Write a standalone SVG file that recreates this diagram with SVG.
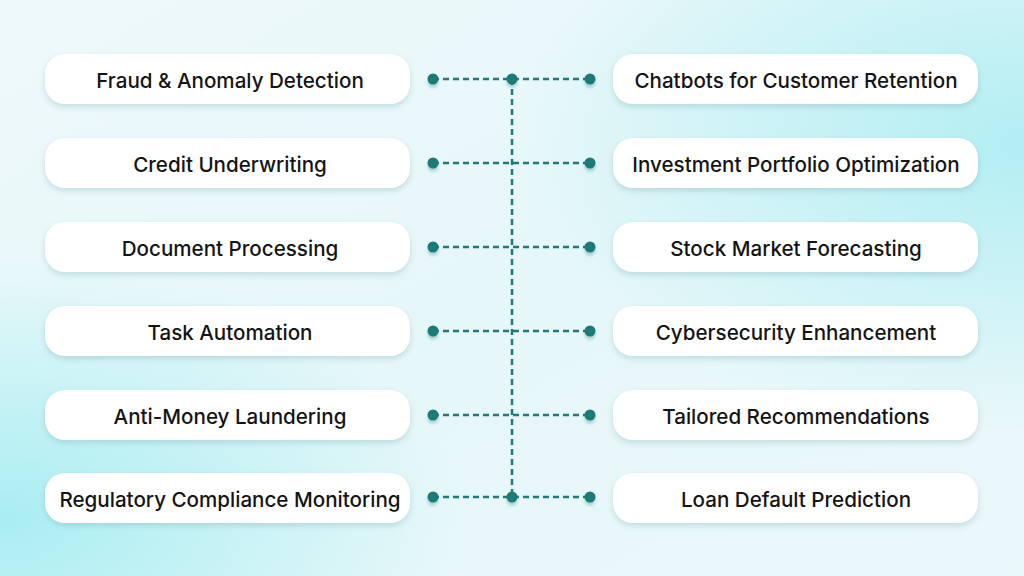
<svg xmlns="http://www.w3.org/2000/svg" width="1024" height="576" viewBox="0 0 1024 576">
<defs>
<linearGradient id="bg" x1="0" y1="0" x2="1" y2="1">
<stop offset="0" stop-color="#eef9fb"/>
<stop offset="0.5" stop-color="#e6f7f9"/>
<stop offset="1" stop-color="#eaf8fa"/>
</linearGradient>
<radialGradient id="g1" cx="1" cy="0.25" r="0.5"><stop offset="0" stop-color="#b2eef3"/><stop offset="1" stop-color="#b2eef3" stop-opacity="0"/></radialGradient>
<radialGradient id="g2" cx="0" cy="0.9" r="0.45"><stop offset="0" stop-color="#a9eef2"/><stop offset="1" stop-color="#a9eef2" stop-opacity="0"/></radialGradient>
<filter id="sh" x="-10%" y="-30%" width="120%" height="170%"><feDropShadow dx="0" dy="3" stdDeviation="3" flood-color="#7aa9b0" flood-opacity="0.35"/></filter>
<filter id="ds" x="-100%" y="-100%" width="300%" height="300%"><feDropShadow dx="0" dy="3" stdDeviation="1.5" flood-color="#1f7a78" flood-opacity="0.3"/></filter>
</defs>
<style>
.n rect{fill:#fff;filter:url(#sh)}
.n text{font-family:Inter,"Noto Sans",sans-serif;font-size:20.6px;font-weight:500;fill:#141414;text-anchor:middle;dominant-baseline:central}
.c line{stroke:#1f7a78;stroke-width:2.5;stroke-dasharray:6 4}
.c circle{fill:#1f7a78;filter:url(#ds)}
</style>
<rect width="1024" height="576" fill="url(#bg)"/>
<rect width="1024" height="576" fill="url(#g1)"/>
<rect width="1024" height="576" fill="url(#g2)"/>
<g id="left-1" class="n"><rect x="45" y="54" width="365" height="50" rx="20"/><text x="230" y="80">Fraud &amp; Anomaly Detection</text></g>
<g id="left-2" class="n"><rect x="45" y="138" width="365" height="50" rx="20"/><text x="230" y="164">Credit Underwriting</text></g>
<g id="left-3" class="n"><rect x="45" y="222" width="365" height="50" rx="20"/><text x="230" y="248">Document Processing</text></g>
<g id="left-4" class="n"><rect x="45" y="306" width="365" height="50" rx="20"/><text x="230" y="332">Task Automation</text></g>
<g id="left-5" class="n"><rect x="45" y="390" width="365" height="50" rx="20"/><text x="230" y="416">Anti-Money Laundering</text></g>
<g id="left-6" class="n"><rect x="45" y="473" width="365" height="50" rx="20"/><text x="230" y="499">Regulatory Compliance Monitoring</text></g>
<g id="right-1" class="n"><rect x="613" y="54" width="365" height="50" rx="20"/><text x="796" y="80">Chatbots for Customer Retention</text></g>
<g id="right-2" class="n"><rect x="613" y="138" width="365" height="50" rx="20"/><text x="796" y="164">Investment Portfolio Optimization</text></g>
<g id="right-3" class="n"><rect x="613" y="222" width="365" height="50" rx="20"/><text x="796" y="248">Stock Market Forecasting</text></g>
<g id="right-4" class="n"><rect x="613" y="306" width="365" height="50" rx="20"/><text x="796" y="332">Cybersecurity Enhancement</text></g>
<g id="right-5" class="n"><rect x="613" y="390" width="365" height="50" rx="20"/><text x="796" y="416">Tailored Recommendations</text></g>
<g id="right-6" class="n"><rect x="613" y="473" width="365" height="50" rx="20"/><text x="796" y="499">Loan Default Prediction</text></g>
<g id="connectors" class="c">
<line x1="512" y1="79" x2="512" y2="497"/>
<line x1="433" y1="79" x2="590" y2="79"/>
<line x1="433" y1="163" x2="590" y2="163"/>
<line x1="433" y1="247" x2="590" y2="247"/>
<line x1="433" y1="331" x2="590" y2="331"/>
<line x1="433" y1="415" x2="590" y2="415"/>
<line x1="433" y1="497" x2="590" y2="497"/>
<circle cx="433" cy="79" r="5.5"/><circle cx="512" cy="79" r="5.5"/><circle cx="590" cy="79" r="5.5"/>
<circle cx="433" cy="163" r="5.5"/><circle cx="590" cy="163" r="5.5"/>
<circle cx="433" cy="247" r="5.5"/><circle cx="590" cy="247" r="5.5"/>
<circle cx="433" cy="331" r="5.5"/><circle cx="590" cy="331" r="5.5"/>
<circle cx="433" cy="415" r="5.5"/><circle cx="590" cy="415" r="5.5"/>
<circle cx="433" cy="497" r="5.5"/><circle cx="512" cy="497" r="5.5"/><circle cx="590" cy="497" r="5.5"/>
</g>
</svg>
